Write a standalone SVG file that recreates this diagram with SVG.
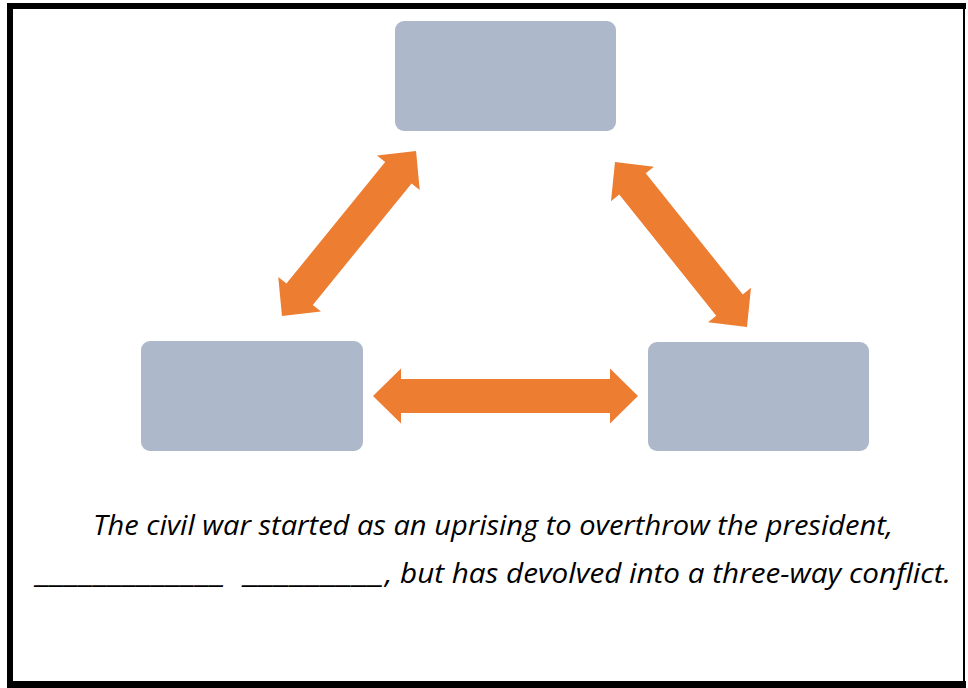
<svg xmlns="http://www.w3.org/2000/svg" width="968" height="688" viewBox="0 0 968 688">
<style>
.box{fill:#ADB9CA}
.arrow{fill:#ED7D31}
.cap{font-family:"Open Sans",Lato,"Liberation Sans",sans-serif;font-style:italic;font-size:27.5px;fill:#000;white-space:pre}
</style>
<rect x="0" y="0" width="968" height="688" fill="#fff"/>
<g id="frame" fill="#000">
<rect x="7" y="3" width="959" height="6"/>
<rect x="7" y="3" width="6" height="685"/>
<rect x="7" y="681" width="959" height="7"/>
<rect x="963" y="3" width="2" height="685"/>
</g>
<g id="node-top"><rect class="box" x="395" y="21" width="221" height="110" rx="9"/></g>
<g id="node-left"><rect class="box" x="141" y="341" width="222" height="110" rx="9"/></g>
<g id="node-right"><rect class="box" x="648" y="342" width="221" height="109" rx="9"/></g>
<g id="connectors" class="arrow">
<path transform="translate(505.5,396)" d="M-132.5,0 L-104.5,-27.5 L-104.5,-17 L104.5,-17 L104.5,-27.5 L132.5,0 L104.5,27.5 L104.5,17 L-104.5,17 L-104.5,27.5 Z"/>
<path transform="translate(349,233.5) rotate(-50.9)" d="M-106.3,0 L-78.3,-27.5 L-78.3,-17 L78.3,-17 L78.3,-27.5 L106.3,0 L78.3,27.5 L78.3,17 L-78.3,17 L-78.3,27.5 Z"/>
<path transform="translate(681,244.5) rotate(51.3)" d="M-105.6,0 L-77.6,-27.5 L-77.6,-17 L77.6,-17 L77.6,-27.5 L105.6,0 L77.6,27.5 L77.6,17 L-77.6,17 L-77.6,27.5 Z"/>
</g>
<g id="caption">
<text class="cap" x="93" y="535" textLength="800" lengthAdjust="spacingAndGlyphs">The civil war started as an uprising to overthrow the president,</text>
<text class="cap" y="583"><tspan x="37" textLength="189" lengthAdjust="spacingAndGlyphs">_____________</tspan><tspan>  </tspan><tspan x="245" textLength="140" lengthAdjust="spacingAndGlyphs">_________</tspan><tspan x="385" textLength="566" lengthAdjust="spacingAndGlyphs">, but has devolved into a three-way conflict.</tspan></text>
</g>
</svg>
